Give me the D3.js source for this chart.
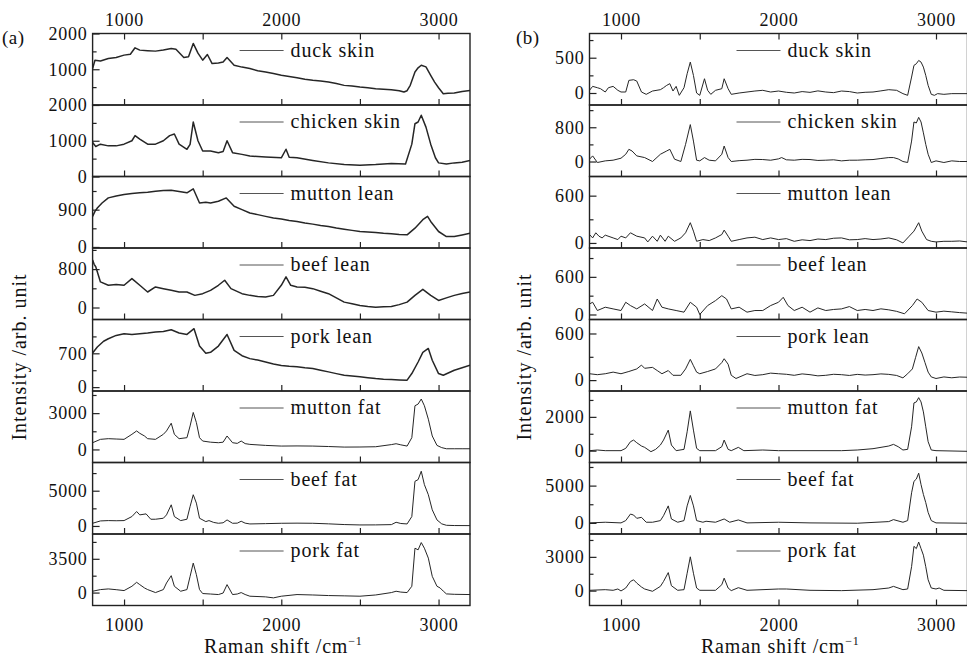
<!DOCTYPE html>
<html>
<head>
<meta charset="utf-8">
<script src="https://cdn.jsdelivr.net/npm/d3@7"></script>
<style>
  body { margin: 0; background: #fff; }
  text { font-family: "Liberation Serif", "Times New Roman", serif; fill: #111; }
</style>
</head>
<body>
<div id="chart"></div>
<script>
// sample names, top to bottom (same order in both panels)
var names = ["duck skin", "chicken skin", "mutton lean", "beef lean", "pork lean", "mutton fat", "beef fat", "pork fat"];

// Raman shift ticks
var xMajor = [1000, 2000, 3000];
var xAll = [1000, 1500, 2000, 2500, 3000];

// ---- panel (a): raw spectra, [raman shift, intensity] ----
var duckSkinA = [[800,1019],[815,1250],[850,1230],[900,1300],[950,1330],[1000,1395],[1040,1420],[1070,1600],[1100,1535],[1150,1520],[1200,1507],[1250,1540],[1300,1580],[1330,1560],[1380,1330],[1410,1350],[1440,1723],[1470,1450],[1500,1253],[1530,1413],[1560,1160],[1600,1178],[1630,1200],[1655,1329],[1700,1113],[1750,1060],[1800,1019],[1850,960],[1900,925],[1950,880],[2000,831],[2050,800],[2100,765],[2150,720],[2200,690],[2250,670],[2300,643],[2350,600],[2400,549],[2450,530],[2500,502],[2550,480],[2600,455],[2650,440],[2700,427],[2750,400],[2780,362],[2800,400],[2820,549],[2850,925],[2870,1040],[2890,1113],[2920,1066],[2950,831],[2975,640],[3000,484],[3030,315],[3060,330],[3100,333],[3150,380],[3200,408]];
var chickenSkinA = [[800,952],[820,840],[850,905],[900,857],[950,857],[1000,905],[1050,1000],[1070,1143],[1100,1048],[1150,905],[1200,905],[1250,1000],[1290,1143],[1320,1190],[1350,905],[1400,762],[1420,900],[1440,1524],[1470,1000],[1500,714],[1550,714],[1600,667],[1630,700],[1655,1000],[1690,667],[1750,619],[1800,571],[1900,543],[2000,524],[2030,762],[2050,540],[2100,524],[2200,448],[2300,381],[2400,333],[2500,314],[2600,333],[2700,362],[2790,352],[2830,905],[2850,1476],[2870,1524],[2890,1714],[2920,1381],[2950,905],[2980,524],[3000,381],[3050,352],[3100,381],[3150,400],[3200,448]];
var muttonLeanA = [[800,738],[815,860],[830,941],[860,1060],[900,1184],[950,1230],[1000,1265],[1050,1290],[1100,1306],[1150,1320],[1200,1346],[1250,1360],[1300,1371],[1350,1340],[1400,1306],[1440,1403],[1480,1062],[1520,1080],[1550,1062],[1600,1103],[1650,1184],[1700,981],[1750,900],[1800,819],[1850,780],[1900,738],[1950,700],[2000,673],[2050,640],[2100,616],[2150,580],[2200,551],[2250,520],[2300,495],[2350,460],[2400,430],[2450,400],[2500,373],[2550,360],[2600,349],[2650,330],[2700,316],[2750,300],[2800,292],[2850,454],[2900,657],[2930,738],[2950,616],[3000,373],[3050,251],[3100,251],[3150,290],[3200,333]];
var beefLeanA = [[800,989],[810,900],[820,849],[850,533],[900,463],[950,480],[1000,463],[1050,603],[1100,463],[1150,323],[1200,428],[1250,393],[1300,358],[1350,323],[1400,323],[1450,253],[1500,288],[1550,358],[1600,463],[1640,568],[1680,393],[1750,288],[1800,253],[1850,230],[1900,218],[1950,253],[2000,463],[2030,639],[2060,463],[2100,428],[2150,420],[2200,393],[2250,340],[2300,288],[2350,200],[2400,112],[2450,80],[2500,42],[2550,20],[2600,7],[2650,15],[2700,21],[2750,60],[2800,112],[2850,253],[2900,379],[2950,253],[3000,147],[3050,200],[3100,253],[3150,290],[3200,323]];
var porkLeanA = [[800,707],[830,830],[870,950],[900,1002],[950,1071],[1000,1105],[1050,1090],[1100,1105],[1150,1120],[1200,1139],[1250,1150],[1300,1187],[1350,1120],[1400,1091],[1445,1210],[1480,850],[1520,700],[1550,720],[1600,850],[1655,1090],[1700,762],[1750,650],[1800,590],[1850,560],[1900,522],[1950,480],[2000,450],[2050,430],[2100,420],[2150,400],[2200,384],[2250,350],[2300,316],[2350,280],[2400,247],[2450,230],[2500,213],[2550,195],[2600,178],[2650,165],[2700,158],[2750,150],[2800,144],[2830,281],[2870,520],[2900,720],[2935,800],[2960,556],[3000,281],[3030,247],[3100,350],[3150,400],[3200,453]];
var muttonFatA = [[800,556],[850,833],[900,889],[950,860],[1000,833],[1050,1250],[1080,1528],[1100,1333],[1130,1111],[1150,889],[1200,833],[1250,1250],[1270,1528],[1300,2167],[1320,1250],[1350,889],[1400,972],[1420,1944],[1440,3056],[1460,2222],[1480,972],[1500,694],[1550,600],[1600,556],[1630,600],[1655,1111],[1690,556],[1720,500],[1745,694],[1770,480],[1800,417],[1900,333],[2000,278],[2100,290],[2200,278],[2300,240],[2400,194],[2500,200],[2600,222],[2700,400],[2730,472],[2760,380],[2800,278],[2830,972],[2850,3611],[2870,3750],[2890,4167],[2910,3611],[2935,2500],[2960,1111],[2990,333],[3020,150],[3050,56],[3100,56],[3150,56],[3200,56]];
var beefFatA = [[800,381],[850,714],[900,762],[950,740],[1000,762],[1050,1333],[1080,2048],[1100,1571],[1140,1714],[1170,952],[1200,952],[1250,1095],[1270,1571],[1300,3000],[1320,1333],[1360,762],[1400,952],[1420,2762],[1440,4429],[1460,3238],[1480,1095],[1520,619],[1540,762],[1570,500],[1600,381],[1630,450],[1655,857],[1690,381],[1720,400],[1745,667],[1770,400],[1800,286],[1900,330],[2000,381],[2100,400],[2200,381],[2300,300],[2400,200],[2500,143],[2600,150],[2700,190],[2730,524],[2760,350],[2800,286],[2830,1333],[2850,6333],[2870,6571],[2890,7762],[2910,5857],[2935,4429],[2960,2286],[2990,857],[3020,300],[3050,95],[3100,60],[3200,48]];
var porkFatA = [[800,137],[850,309],[900,377],[950,300],[1000,206],[1050,652],[1080,1064],[1100,824],[1130,480],[1150,309],[1200,0],[1250,309],[1270,995],[1300,1750],[1320,652],[1360,137],[1400,309],[1420,1682],[1440,3054],[1460,1853],[1480,309],[1500,-100],[1550,-150],[1600,-206],[1630,-50],[1655,824],[1690,-206],[1720,-150],[1745,0],[1770,-200],[1800,-377],[1900,-446],[1950,-549],[2000,-377],[2100,-206],[2200,-250],[2300,-309],[2400,-340],[2500,-377],[2600,-250],[2700,0],[2730,137],[2760,50],[2800,0],[2830,652],[2850,4598],[2870,4427],[2890,5182],[2910,4598],[2935,3569],[2960,1682],[2990,652],[3010,480],[3030,150],[3050,-137],[3100,-180],[3200,-206]];

// ---- panel (b): processed spectra ----
var duckSkinB = [[800,38],[820,94],[850,75],[870,61],[900,14],[920,75],[950,94],[980,38],[1000,14],[1030,14],[1050,179],[1080,188],[1100,169],[1130,14],[1160,-19],[1200,28],[1250,47],[1270,75],[1290,108],[1310,132],[1330,28],[1350,94],[1370,-33],[1400,75],[1420,273],[1440,438],[1460,249],[1480,0],[1500,-33],[1530,202],[1550,38],[1570,-19],[1600,38],[1640,61],[1655,202],[1680,61],[1700,-19],[1750,0],[1800,14],[1850,28],[1900,38],[1950,14],[2000,28],[2050,10],[2100,0],[2150,20],[2200,9],[2250,30],[2300,14],[2350,5],[2400,28],[2450,20],[2500,0],[2550,10],[2600,14],[2650,30],[2700,47],[2750,38],[2790,-9],[2820,-33],[2845,226],[2860,391],[2875,414],[2890,461],[2905,438],[2920,367],[2935,249],[2950,108],[2970,-19],[2990,-33],[3010,-9],[3050,-19],[3100,-9],[3200,-9]];
var chickenSkinB = [[800,54],[820,131],[850,-23],[900,15],[950,31],[1000,77],[1030,169],[1050,285],[1070,246],[1100,131],[1150,92],[1200,0],[1250,169],[1290,246],[1310,285],[1340,54],[1380,0],[1410,400],[1440,862],[1460,477],[1480,31],[1500,15],[1530,92],[1560,31],[1600,15],[1640,169],[1655,362],[1680,92],[1700,0],[1750,20],[1800,31],[1850,50],[1900,46],[1950,30],[2000,62],[2020,92],[2050,40],[2100,31],[2150,50],[2200,46],[2250,25],[2300,31],[2350,40],[2400,15],[2450,30],[2500,31],[2550,40],[2600,46],[2650,70],[2700,92],[2730,92],[2760,60],[2790,0],[2820,-23],[2845,477],[2860,923],[2875,900],[2890,1031],[2905,923],[2920,669],[2935,400],[2950,169],[2970,-23],[3000,15],[3050,-23],[3100,15],[3150,0],[3200,0]];
var muttonLeanB = [[800,107],[820,64],[840,129],[860,86],[880,64],[900,99],[950,64],[980,43],[1000,86],[1030,64],[1060,129],[1100,86],[1150,64],[1170,13],[1200,86],[1230,21],[1250,99],[1280,21],[1300,86],[1340,21],[1380,64],[1410,129],[1440,257],[1460,150],[1480,21],[1520,43],[1560,30],[1600,64],[1640,107],[1655,163],[1680,86],[1700,21],[1750,43],[1800,64],[1850,73],[1900,43],[1950,64],[2000,43],[2050,55],[2100,21],[2150,40],[2200,30],[2250,50],[2300,43],[2350,60],[2400,64],[2450,40],[2500,43],[2550,55],[2600,43],[2650,50],[2700,64],[2750,40],[2790,0],[2830,86],[2860,150],[2890,257],[2910,150],[2940,43],[2970,21],[3000,13],[3050,21],[3100,21],[3150,25],[3200,13]];
var beefLeanB = [[800,168],[820,195],[850,63],[900,116],[950,89],[1000,63],[1030,195],[1060,142],[1100,89],[1150,168],[1200,63],[1230,247],[1260,116],[1300,89],[1350,63],[1400,37],[1440,195],[1480,116],[1500,0],[1550,142],[1600,221],[1640,300],[1670,247],[1700,89],[1750,116],[1800,37],[1850,63],[1900,63],[1950,142],[2000,195],[2030,274],[2060,142],[2100,63],[2150,116],[2200,37],[2250,105],[2300,63],[2350,80],[2400,89],[2450,126],[2500,63],[2550,80],[2600,63],[2650,90],[2700,74],[2750,50],[2800,11],[2850,142],[2880,247],[2910,195],[2950,63],[3000,37],[3050,53],[3100,42],[3150,30],[3200,21]];
var porkLeanB = [[800,82],[850,70],[900,82],[950,103],[1000,82],[1050,111],[1100,144],[1130,193],[1150,152],[1200,164],[1230,123],[1260,82],[1300,123],[1330,62],[1380,62],[1410,144],[1440,267],[1460,185],[1480,103],[1500,82],[1550,111],[1600,144],[1640,226],[1655,275],[1680,205],[1700,62],[1730,21],[1800,82],[1850,60],[1900,70],[1950,90],[2000,82],[2050,75],[2100,62],[2150,80],[2200,70],[2250,55],[2300,62],[2350,75],[2400,70],[2450,60],[2500,74],[2550,65],[2600,70],[2650,80],[2700,74],[2750,60],[2790,29],[2820,82],[2850,144],[2870,288],[2890,431],[2910,349],[2930,226],[2950,103],[2970,41],[3000,21],[3050,41],[3100,30],[3150,40],[3200,37]];
var muttonFatB = [[800,0],[850,39],[900,0],[1000,0],[1030,137],[1060,529],[1080,627],[1100,471],[1130,275],[1150,196],[1190,-59],[1220,78],[1250,333],[1270,627],[1300,1216],[1320,333],[1350,0],[1400,78],[1420,1118],[1440,2353],[1460,1216],[1480,137],[1500,0],[1600,0],[1640,235],[1655,627],[1680,78],[1700,0],[1745,196],[1780,0],[1900,39],[2000,0],[2200,0],[2400,0],[2500,39],[2600,118],[2700,275],[2730,373],[2760,235],[2790,39],[2820,78],[2845,1412],[2860,2824],[2875,2882],[2890,3137],[2905,2882],[2920,2294],[2935,1412],[2950,529],[2970,39],[3000,0],[3200,-39]];
var beefFatB = [[800,0],[900,88],[1000,0],[1030,307],[1060,1184],[1080,1053],[1100,614],[1130,746],[1160,88],[1200,88],[1250,307],[1270,965],[1300,2281],[1320,526],[1360,88],[1400,307],[1420,2281],[1440,3684],[1460,2281],[1480,307],[1520,88],[1540,219],[1600,88],[1655,526],[1690,88],[1745,395],[1800,0],[2000,88],[2200,0],[2500,-44],[2700,175],[2730,439],[2790,88],[2820,307],[2845,4035],[2860,5570],[2875,5877],[2890,6667],[2905,5132],[2920,3816],[2935,2719],[2950,1404],[2970,307],[3000,0],[3200,-44]];
var porkFatB = [[800,29],[900,87],[950,29],[980,146],[1000,-29],[1030,233],[1060,816],[1080,962],[1100,671],[1130,321],[1150,146],[1200,-58],[1250,379],[1270,816],[1300,1603],[1320,437],[1360,29],[1400,87],[1420,1545],[1440,3003],[1460,1545],[1480,233],[1500,29],[1600,29],[1640,525],[1655,1108],[1680,233],[1700,0],[1745,262],[1800,29],[2000,146],[2050,146],[2200,29],[2400,0],[2600,87],[2700,233],[2730,379],[2790,87],[2820,146],[2845,2128],[2860,3936],[2875,3732],[2890,4315],[2905,3732],[2920,3149],[2935,2128],[2950,962],[2970,233],[3000,146],[3020,233],[3050,29],[3200,0]];

// y ranges, labelled ticks and minor ticks of each strip
var domainsA = [[0,2000],[0,2000],[-25,1700],[-250,1240],[-80,1400],[-1080,4830],[-1140,9000],[-1340,6070]];
var majorA = [[1000,2000],[0,1000,2000],[0,900],[0,800],[0,700],[0,3000],[0,5000],[0,3500]];
var minorA = [[500,1500],[500,1500],[450,1350],[400,1200],[350,1050],[1500,4500],[2500,7500],[1750,5250]];
var domainsB = [[-170,843],[-350,1320],[-64,843],[-80,1060],[-140,780],[-700,3530],[-1490,8100],[-1320,5030]];
var majorB = [[0,500],[0,800],[0,600],[0,600],[0,600],[0,2000],[0,5000],[0,3000]];
var minorB = [[250,750],[400,1200],[300],[300,900],[300],[1000,3000],[2500,7500],[1500,4500]];

var seriesA = [duckSkinA, chickenSkinA, muttonLeanA, beefLeanA, porkLeanA, muttonFatA, beefFatA, porkFatA];
var seriesB = [duckSkinB, chickenSkinB, muttonLeanB, beefLeanB, porkLeanB, muttonFatB, beefFatB, porkFatB];

var width = 967, height = 659;
var top0 = 33.5, rowH = 71.5;

var svg = d3.select("#chart").append("svg")
  .attr("width", width)
  .attr("height", height);

var panels = [
  {tag: "(a)", tagX: 2, left: 92.6, right: 470, yLabX: 26, noisy: 1.5, series: seriesA, dom: domainsA, major: majorA, minor: minorA},
  {tag: "(b)", tagX: 516, left: 589.5, right: 967.5, yLabX: 531, noisy: 1.0, series: seriesB, dom: domainsB, major: majorB, minor: minorB}
];

function styleText(sel, size, spacing) {
  sel.attr("font-size", size + "px")
    .attr("font-family", "Liberation Serif")
    .attr("letter-spacing", spacing);
}

panels.forEach(function(p, pi) {
  var xScale = d3.scaleLinear().domain([800, 3200]).range([p.left, p.right]);
  var g = svg.append("g");

  p.series.forEach(function(data, i) {
    var y0 = top0 + i * rowH, y1 = y0 + rowH;
    var yScale = d3.scaleLinear().domain(p.dom[i]).range([y1, y0]);
    var last = i === p.series.length - 1;

    var clipId = "clip" + pi + "_" + i;
    svg.append("clipPath").attr("id", clipId)
      .append("rect")
      .attr("x", p.left).attr("y", y0)
      .attr("width", p.right - p.left).attr("height", rowH);

    var line = d3.line()
      .x(d => xScale(d[0]))
      .y(d => yScale(d[1]));

    g.append("path")
      .datum(data)
      .attr("clip-path", "url(#" + clipId + ")")
      .attr("fill", "none")
      .attr("stroke", "#262626")
      .attr("stroke-width", i < 5 ? p.noisy : 1.0)
      .attr("stroke-linejoin", "round")
      .attr("d", line);

    // legend
    g.append("line")
      .attr("x1", p.left + 147).attr("x2", p.left + 191)
      .attr("y1", y0 + 17).attr("y2", y0 + 17)
      .attr("stroke", "#555").attr("stroke-width", 1);
    g.append("text")
      .attr("x", p.left + 198).attr("y", y0 + 23)
      .call(styleText, 20, 0.8)
      .text(names[i]);

    // y axis, ticks pointing in
    var yAx = g.append("g")
      .attr("transform", `translate(${p.left},0)`)
      .call(d3.axisLeft(yScale).tickValues(p.major[i]).tickSize(-7).tickPadding(5).tickFormat(d3.format("d")));
    yAx.selectAll("text").call(styleText, 18, 0.8);
    var yMin = g.append("g")
      .attr("transform", `translate(${p.left},0)`)
      .call(d3.axisLeft(yScale).tickValues(p.minor[i]).tickSize(-4).tickFormat(""));

    // bottom ticks of each strip
    var xAx = g.append("g")
      .attr("transform", `translate(0,${y1})`)
      .call(d3.axisBottom(xScale).tickValues(xAll).tickSize(-6).tickPadding(13)
        .tickFormat(d => (last && xMajor.indexOf(d) >= 0) ? d : ""));
    xAx.selectAll("text").call(styleText, 18, 0.8);

    if (i === 0) {
      var xTop = g.append("g")
        .attr("transform", `translate(0,${y0})`)
        .call(d3.axisTop(xScale).tickValues(xAll).tickSize(-6).tickPadding(8)
          .tickFormat(d => xMajor.indexOf(d) >= 0 ? d : ""));
      xTop.selectAll("text").call(styleText, 18, 0.8);
    }

    g.selectAll(".tick line").attr("stroke", "#222").attr("stroke-width", 1.2);

    // strip frame
    g.append("rect")
      .attr("x", p.left).attr("y", y0)
      .attr("width", p.right - p.left).attr("height", rowH)
      .attr("fill", "none")
      .attr("stroke", "#222")
      .attr("stroke-width", 1.4);
  });

  g.selectAll(".domain").remove();

  // panel tag
  svg.append("text")
    .attr("x", p.tagX).attr("y", 44)
    .call(styleText, 19, 0.5)
    .text(p.tag);

  // axis titles
  svg.append("text")
    .attr("transform", `translate(${p.yLabX},357) rotate(-90)`)
    .attr("text-anchor", "middle")
    .call(styleText, 20, 1)
    .text("Intensity /arb. unit");

  var xt = svg.append("text")
    .attr("x", (p.left + Math.min(p.right, 967)) / 2 + 2)
    .attr("y", 653)
    .attr("text-anchor", "middle")
    .call(styleText, 20, 0.8);
  xt.append("tspan").text("Raman shift /cm");
  xt.append("tspan").attr("font-size", "12px").attr("dy", -8).text("\u22121");
});
</script>
</body>
</html>
